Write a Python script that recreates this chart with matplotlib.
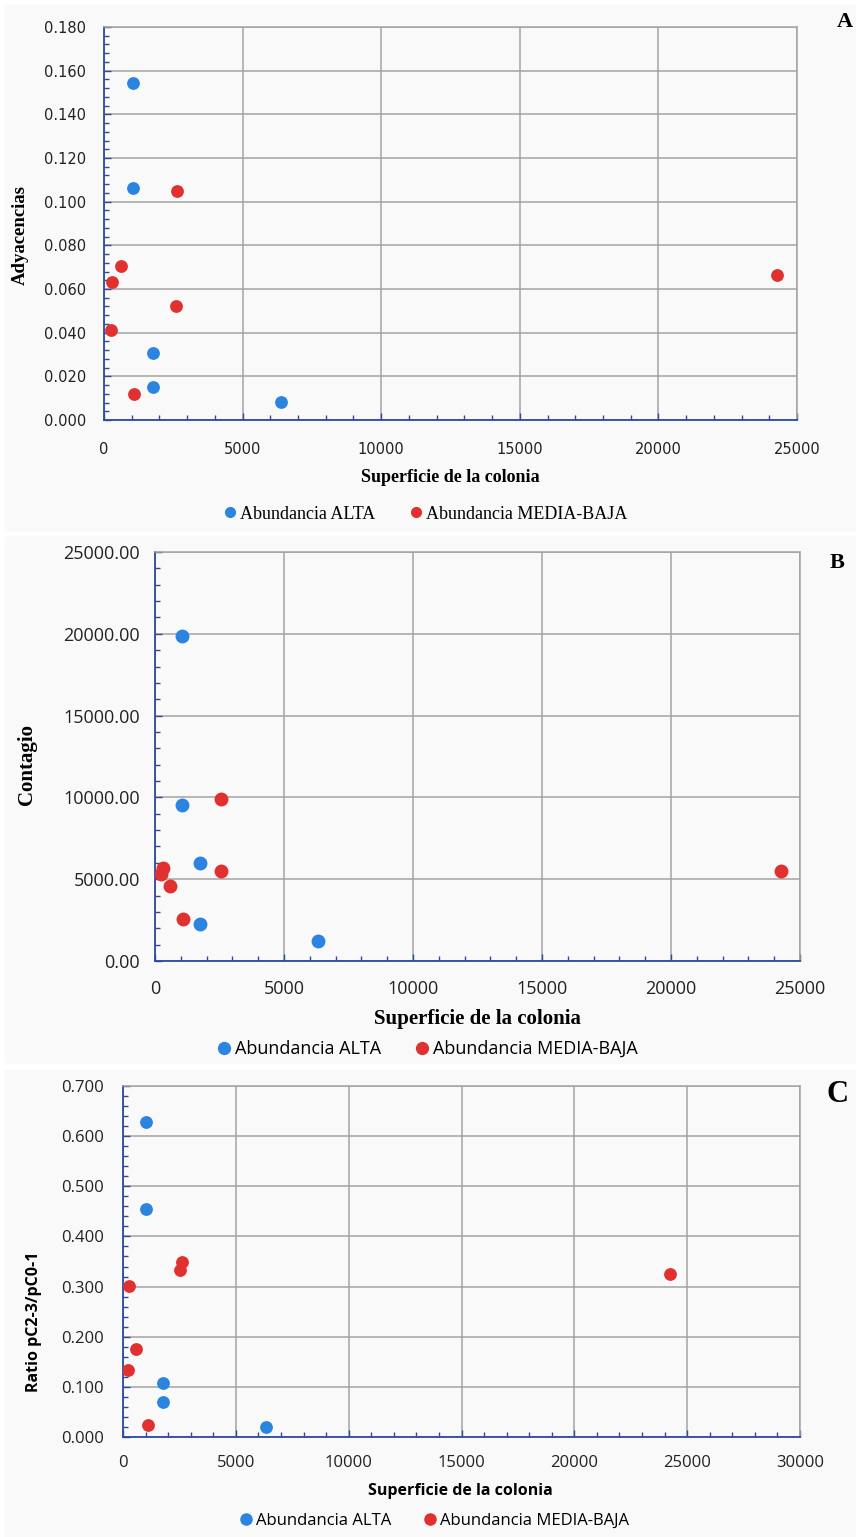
import matplotlib.pyplot as plt
from matplotlib.patches import Rectangle
from matplotlib.lines import Line2D
from matplotlib.ticker import MultipleLocator, FormatStrFormatter

# ---- data ----
# A: Adyacencias
a_alta_x = [1060, 1060, 1775, 1775, 6370]
a_alta_y = [0.1544, 0.1063, 0.0305, 0.0151, 0.0083]
a_media_x = [2630, 615, 300, 2585, 255, 1100, 24280]
a_media_y = [0.1051, 0.0706, 0.0632, 0.0521, 0.0410, 0.0120, 0.0664]

# B: Contagio
b_alta_x = [1050, 1050, 1750, 1750, 6310]
b_alta_y = [19840, 9550, 5990, 2270, 1250]
b_media_x = [2565, 2565, 300, 245, 595, 1100, 24250]
b_media_y = [9880, 5510, 5680, 5300, 4555, 2540, 5490]

# C: Ratio pC2-3/pC0-1
c_alta_x = [1005, 1005, 1760, 1760, 6320]
c_alta_y = [0.628, 0.4545, 0.1068, 0.0690, 0.0192]
c_media_x = [2618, 2544, 265, 592, 207, 1124, 24260]
c_media_y = [0.3483, 0.3331, 0.3019, 0.1758, 0.1334, 0.0232, 0.325]

series_labels = ["Abundancia ALTA", "Abundancia MEDIA-BAJA"]
BLUE = "#2B84E0"
RED = "#E0302F"
GRID = "#a3a3a3"
SPINE = "#2E4A9C"
PANEL_BG = "#f9f9f9"

W, H = 856, 1537
fig = plt.figure(figsize=(W / 100, H / 100), dpi=100)
fig.patch.set_facecolor("white")


def fx(px):
    return px / W


def fy(py):
    return 1 - py / H


# panel backgrounds (behind the axes)
for top, bot in [(5, 530), (536, 1063), (1070, 1537)]:
    fig.patches.append(Rectangle((fx(5), fy(bot)), fx(851), (bot - top) / H,
                                 transform=fig.transFigure, color=PANEL_BG, zorder=-5))


def make_axes(left, top, right, bottom):
    ax = fig.add_axes([fx(left), fy(bottom), (right - left) / W, (bottom - top) / H])
    ax.set_facecolor(PANEL_BG)
    ax.grid(True, which="major", color=GRID, linewidth=1.1)
    ax.set_axisbelow(True)
    for s in ["top", "right"]:
        ax.spines[s].set_color(GRID)
        ax.spines[s].set_linewidth(1.1)
    for s in ["left", "bottom"]:
        ax.spines[s].set_color(SPINE)
        ax.spines[s].set_linewidth(1.3)
    ax.tick_params(which="both", direction="in", color=SPINE, width=1)
    ax.tick_params(which="major", length=5)
    ax.tick_params(which="minor", length=3.5)
    return ax


# ---------------- Panel A ----------------
axA = make_axes(104, 27, 797, 420)
axA.scatter(a_alta_x, a_alta_y, s=85, color=BLUE, zorder=3, linewidths=0)
axA.scatter(a_media_x, a_media_y, s=85, color=RED, zorder=3, linewidths=0)
axA.set_xlim(0, 25000)
axA.set_ylim(0, 0.18)
axA.xaxis.set_major_locator(MultipleLocator(5000))
axA.xaxis.set_minor_locator(MultipleLocator(1000))
axA.yaxis.set_major_locator(MultipleLocator(0.02))
axA.yaxis.set_minor_locator(MultipleLocator(0.004))
axA.yaxis.set_major_formatter(FormatStrFormatter("%.3f"))
axA.tick_params(axis="x", which="major", pad=16)
axA.tick_params(axis="y", which="major", pad=13)
for lab in axA.get_xticklabels() + axA.get_yticklabels():
    lab.set_family("DejaVu Sans")
    lab.set_fontsize(10.5)
    lab.set_color("#222222")
fig.text(fx(450), fy(477), "Superficie de la colonia", family="Liberation Serif",
         weight="bold", fontsize=13, ha="center", va="center")
fig.text(fx(20), fy(235), "Adyacencias", family="Liberation Serif", weight="bold",
         fontsize=13.5, rotation=90, ha="center", va="center")
fig.text(fx(845), fy(22), "A", family="Liberation Serif", weight="bold",
         fontsize=16, ha="center", va="center")
hA = [Line2D([], [], marker="o", linestyle="none", color=c, markersize=7) for c in (BLUE, RED)]
fig.legend(hA, series_labels, loc="center", bbox_to_anchor=(fx(426), fy(514)), ncol=2,
           frameon=False, handlelength=0.6, handletextpad=0.25, columnspacing=2.0,
           prop={"family": "Liberation Serif", "size": 13})

# ---------------- Panel B ----------------
axB = make_axes(155, 552, 800, 961)
axB.scatter(b_alta_x, b_alta_y, s=100, color=BLUE, zorder=3, linewidths=0)
axB.scatter(b_media_x, b_media_y, s=100, color=RED, zorder=3, linewidths=0)
axB.set_xlim(0, 25000)
axB.set_ylim(0, 25000)
axB.xaxis.set_major_locator(MultipleLocator(5000))
axB.xaxis.set_minor_locator(MultipleLocator(1000))
axB.yaxis.set_major_locator(MultipleLocator(5000))
axB.yaxis.set_minor_locator(MultipleLocator(1000))
axB.yaxis.set_major_formatter(FormatStrFormatter("%.2f"))
axB.tick_params(axis="x", which="major", pad=14)
axB.tick_params(axis="y", which="major", pad=11)
for lab in axB.get_xticklabels() + axB.get_yticklabels():
    lab.set_family("Open Sans")
    lab.set_fontsize(13)
    lab.set_color("#222222")
fig.text(fx(477), fy(1019), "Superficie de la colonia", family="Liberation Serif",
         weight="bold", fontsize=15, ha="center", va="center")
fig.text(fx(27), fy(765), "Contagio", family="Liberation Serif", weight="bold",
         fontsize=15, rotation=90, ha="center", va="center")
fig.text(fx(837), fy(563), "B", family="Liberation Serif", weight="bold",
         fontsize=16, ha="center", va="center")
hB = [Line2D([], [], marker="o", linestyle="none", color=c, markersize=8.5) for c in (BLUE, RED)]
fig.legend(hB, series_labels, loc="center", bbox_to_anchor=(fx(428), fy(1049)), ncol=2,
           frameon=False, handlelength=0.6, handletextpad=0.3, columnspacing=2.0,
           prop={"family": "Open Sans", "size": 13})

# ---------------- Panel C ----------------
axC = make_axes(123, 1086, 800, 1437)
axC.scatter(c_alta_x, c_alta_y, s=85, color=BLUE, zorder=3, linewidths=0)
axC.scatter(c_media_x, c_media_y, s=85, color=RED, zorder=3, linewidths=0)
axC.set_xlim(0, 30000)
axC.set_ylim(0, 0.7)
axC.xaxis.set_major_locator(MultipleLocator(5000))
axC.xaxis.set_minor_locator(MultipleLocator(1000))
axC.yaxis.set_major_locator(MultipleLocator(0.1))
axC.yaxis.set_minor_locator(MultipleLocator(0.02))
axC.yaxis.set_major_formatter(FormatStrFormatter("%.3f"))
axC.tick_params(axis="x", which="major", pad=13)
axC.tick_params(axis="y", which="major", pad=14)
for lab in axC.get_xticklabels() + axC.get_yticklabels():
    lab.set_family("Open Sans")
    lab.set_fontsize(12)
    lab.set_color("#222222")
fig.text(fx(460), fy(1491), "Superficie de la colonia", family="Open Sans",
         weight="bold", fontsize=11.5, ha="center", va="center")
fig.text(fx(34), fy(1322), "Ratio pC2-3/pC0-1", family="Open Sans", weight="bold",
         fontsize=11.5, rotation=90, ha="center", va="center")
fig.text(fx(837), fy(1095), "C", family="Liberation Serif", weight="bold",
         fontsize=22, ha="center", va="center")
hC = [Line2D([], [], marker="o", linestyle="none", color=c, markersize=8) for c in (BLUE, RED)]
fig.legend(hC, series_labels, loc="center", bbox_to_anchor=(fx(435), fy(1521)), ncol=2,
           frameon=False, handlelength=0.6, handletextpad=0.3, columnspacing=2.0,
           prop={"family": "Open Sans", "size": 12})

fig.savefig("out.png", dpi=100, facecolor="white")
